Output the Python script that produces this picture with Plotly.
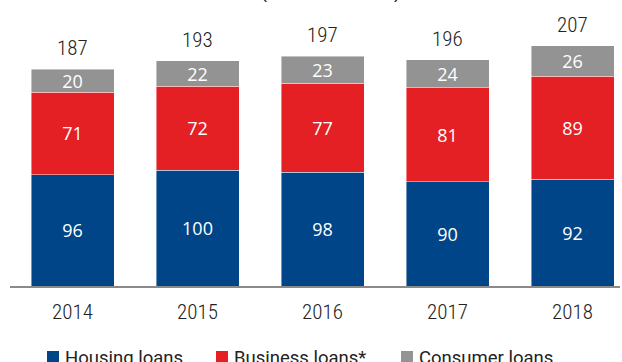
import plotly.graph_objects as go

# Outstanding loans by type, year-end
years = ["2014", "2015", "2016", "2017", "2018"]
housing = [96, 100, 98, 90, 92]
business = [71, 72, 77, 81, 89]
consumer = [20, 22, 23, 24, 26]
totals = [187, 193, 197, 196, 207]

series_names = ["Housing loans", "Business loans*", "Consumer loans"]
series_colors = ["#004587", "#E42024", "#939393"]
series_values = [housing, business, consumer]

W, H = 622, 362
M_L, M_R, M_T, M_B = 10, 2, 8, 76
plot_w = W - M_L - M_R
plot_h = H - M_T - M_B
px_per_unit = 1.16
y_max = plot_h / px_per_unit
cat_px = 125.0
x_max = -0.5 + plot_w / cat_px

NUM_FONT = "Roboto Condensed, Liberation Sans"


def paper_x(px):
    return (px - M_L) / plot_w


def paper_y(py):
    return (H - M_B - py) / plot_h


fig = go.Figure()
for name, color, vals in zip(series_names, series_colors, series_values):
    fig.add_trace(go.Bar(
        x=years, y=vals, name=name,
        marker=dict(color=color, line=dict(color="rgba(255,255,255,0.55)", width=0.8)),
        texttemplate="%{y}", textposition="inside", textangle=0,
        insidetextanchor="middle", constraintext="none",
        textfont=dict(family="Open Sans", size=18, color="white"),
        showlegend=False, hoverinfo="skip",
    ))

# Totals above each stack (category index used as x position)
stack_tops = [h + b + c for h, b, c in zip(housing, business, consumer)]
annotations = []
for i, (top, tot) in enumerate(zip(stack_tops, totals)):
    annotations.append(dict(
        x=i, y=top, xref="x", yref="y", text=str(tot), showarrow=False,
        yanchor="middle", yshift=21,
        font=dict(family=NUM_FONT, size=21, color="#222222", weight=300),
    ))

# Heading (mostly above the visible area)
annotations.append(dict(
    x=paper_x(330), y=paper_y(3.5), xref="paper", yref="paper",
    text="(Billions of euros)", showarrow=False, xanchor="center", yanchor="bottom",
    font=dict(family="Liberation Sans", size=18, color="#222222"),
))

# Legend row
legend_sq_x = [47, 216, 401]
shapes = []
for name, color, sx in zip(series_names, series_colors, legend_sq_x):
    shapes.append(dict(
        type="rect", xref="paper", yref="paper",
        x0=paper_x(sx), x1=paper_x(sx + 12), y0=paper_y(351), y1=paper_y(363),
        fillcolor=color, line=dict(width=0),
    ))
    annotations.append(dict(
        x=paper_x(sx + 16), y=paper_y(358), xref="paper", yref="paper",
        text=name, showarrow=False, xanchor="left", yanchor="middle",
        font=dict(family="Roboto", size=18.5, color="#222222"),
    ))

fig.update_layout(
    barmode="stack", bargap=0.336,
    width=W, height=H,
    margin=dict(l=M_L, r=M_R, t=M_T, b=M_B, pad=0),
    paper_bgcolor="white", plot_bgcolor="white",
    showlegend=False,
    annotations=annotations, shapes=shapes,
    xaxis=dict(
        type="category", range=[-0.5, x_max],
        showline=True, linecolor="#8a8a8a", linewidth=2,
        showgrid=False, ticks="", ticklabelstandoff=6,
        tickfont=dict(family=NUM_FONT, size=21, color="#222222", weight=300),
    ),
    yaxis=dict(range=[0, y_max], visible=False, showgrid=False, zeroline=False),
)

fig.write_html("out.html")
